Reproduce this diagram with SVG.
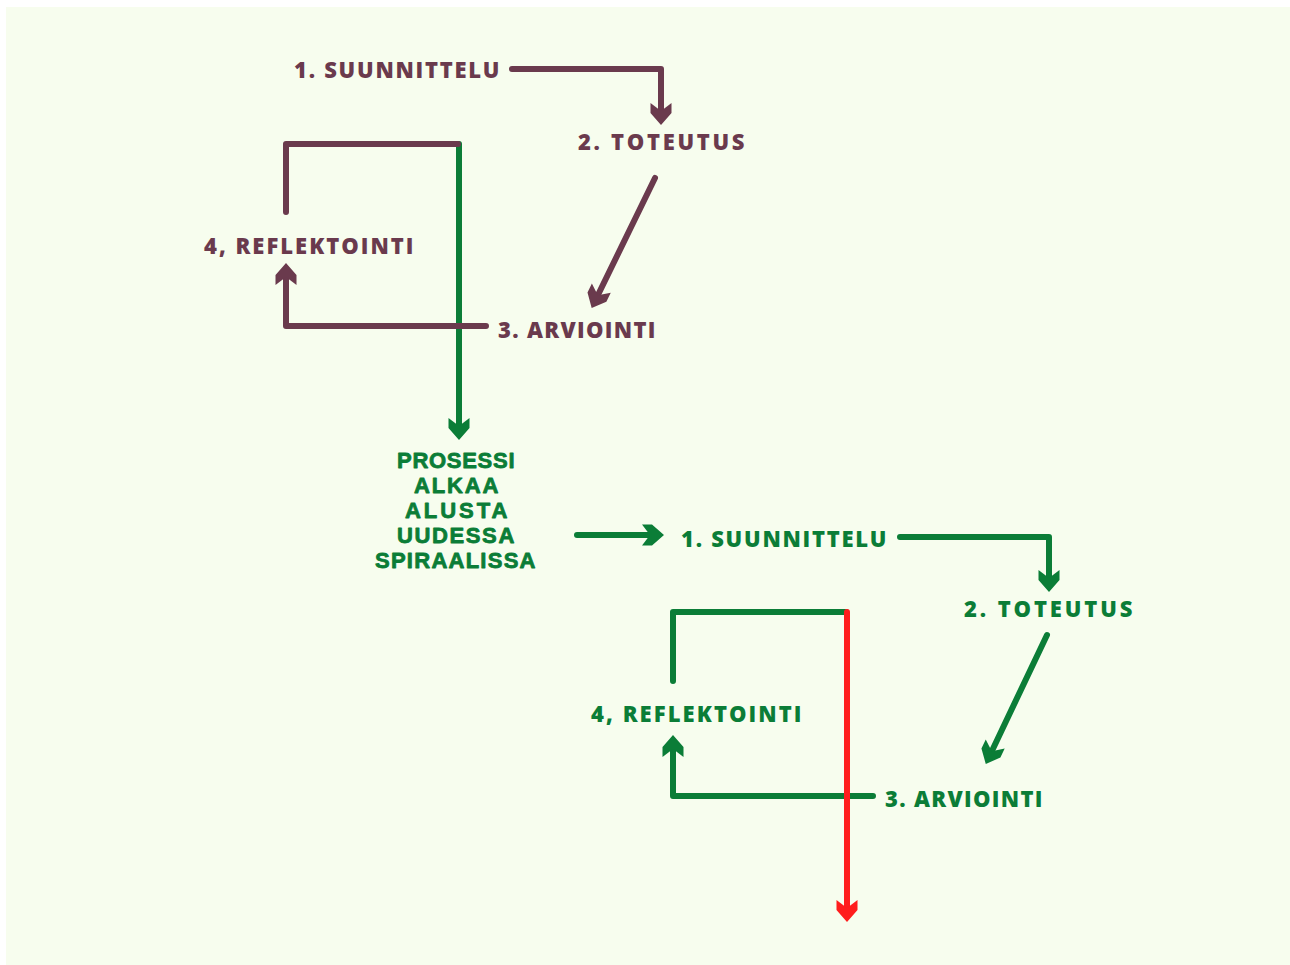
<svg xmlns="http://www.w3.org/2000/svg" width="1290" height="965" viewBox="0 0 1290 965">
  <style>
    text { font-family: "Open Sans", "Liberation Sans", sans-serif; font-weight: 800; font-size: 22px; letter-spacing: 0.5px; }
    text.blk { font-family: "Liberation Sans", Arial, sans-serif; font-weight: 700; font-size: 22px; letter-spacing: 0.5px; stroke: #0b7d37; stroke-width: 0.8px; stroke-linejoin: round; }
    .m { fill: #6a3a4d; }
    .g { fill: #0b7d37; }
    .lm { stroke: #6a3a4d; }
    .lg { stroke: #0b7d37; }
    .lr { stroke: #ff1d1d; }
    .ln { fill: none; stroke-width: 6; stroke-linecap: round; stroke-linejoin: round; }
  </style>
  <defs>
    <marker id="am" markerUnits="userSpaceOnUse" viewBox="-15 -15 30 30" markerWidth="30" markerHeight="30" refX="0" refY="0" orient="auto" overflow="visible">
      <path d="M11,0 L-1,10.5 L-11,10.5 L-3,0 L-11,-10.5 L-1,-10.5 Z" fill="#6a3a4d"/>
    </marker>
    <marker id="ag" markerUnits="userSpaceOnUse" viewBox="-15 -15 30 30" markerWidth="30" markerHeight="30" refX="0" refY="0" orient="auto" overflow="visible">
      <path d="M11,0 L-1,10.5 L-11,10.5 L-3,0 L-11,-10.5 L-1,-10.5 Z" fill="#0b7d37"/>
    </marker>
    <marker id="ar" markerUnits="userSpaceOnUse" viewBox="-15 -15 30 30" markerWidth="30" markerHeight="30" refX="0" refY="0" orient="auto" overflow="visible">
      <path d="M11,0 L-1,10.5 L-11,10.5 L-3,0 L-11,-10.5 L-1,-10.5 Z" fill="#ff1d1d"/>
    </marker>
  </defs>
  <rect x="0" y="0" width="1290" height="965" fill="#ffffff"/>
  <rect x="6" y="7" width="1284" height="958" fill="#f7fdee"/>

  <g id="connectors">
    <path class="ln lg" d="M459,144 L459,429" marker-end="url(#ag)"/>
    <path class="ln lm" d="M512,69 L661,69 L661,114" marker-end="url(#am)"/>
    <path class="ln lm" d="M655,178 L596.5,298" marker-end="url(#am)"/>
    <path class="ln lm" d="M486,326 L286,326 L286,274" marker-end="url(#am)"/>
    <path class="ln lm" d="M286,212 L286,144 L458,144"/>
    <path class="ln lg" d="M577,535 L653,535" marker-end="url(#ag)"/>
    <path class="ln lg" d="M900,537 L1049,537 L1049,581" marker-end="url(#ag)"/>
    <path class="ln lg" d="M1047,635 L990.5,754" marker-end="url(#ag)"/>
    <path class="ln lg" d="M873,796 L673,796 L673,746" marker-end="url(#ag)"/>
    <path class="ln lg" d="M673,681 L673,612 L846,612"/>
    <path class="ln lr" d="M847,612 L847,911" marker-end="url(#ar)"/>
  </g>

  <g id="top-suunnittelu"><text class="m" x="294" y="78" textLength="206" lengthAdjust="spacing">1. SUUNNITTELU</text></g>
  <g id="top-toteutus"><text class="m" x="578" y="150" textLength="167" lengthAdjust="spacing">2. TOTEUTUS</text></g>
  <g id="top-arviointi"><text class="m" x="498" y="338" textLength="158" lengthAdjust="spacing">3. ARVIOINTI</text></g>
  <g id="top-reflektointi"><text class="m" x="204" y="254" textLength="210" lengthAdjust="spacing">4, REFLEKTOINTI</text></g>

  <g id="restart">
    <text class="g blk">
      <tspan x="397" y="468" textLength="118" lengthAdjust="spacing">PROSESSI</tspan>
      <tspan x="414" y="493" textLength="84" lengthAdjust="spacing">ALKAA</tspan>
      <tspan x="405" y="518" textLength="102" lengthAdjust="spacing">ALUSTA</tspan>
      <tspan x="397" y="543" textLength="117" lengthAdjust="spacing">UUDESSA</tspan>
      <tspan x="375" y="568" textLength="161" lengthAdjust="spacing">SPIRAALISSA</tspan>
    </text>
  </g>

  <g id="bottom-suunnittelu"><text class="g" x="681" y="547" textLength="206" lengthAdjust="spacing">1. SUUNNITTELU</text></g>
  <g id="bottom-toteutus"><text class="g" x="964" y="617" textLength="169" lengthAdjust="spacing">2. TOTEUTUS</text></g>
  <g id="bottom-arviointi"><text class="g" x="885" y="807" textLength="158" lengthAdjust="spacing">3. ARVIOINTI</text></g>
  <g id="bottom-reflektointi"><text class="g" x="591" y="722" textLength="211" lengthAdjust="spacing">4, REFLEKTOINTI</text></g>
</svg>
